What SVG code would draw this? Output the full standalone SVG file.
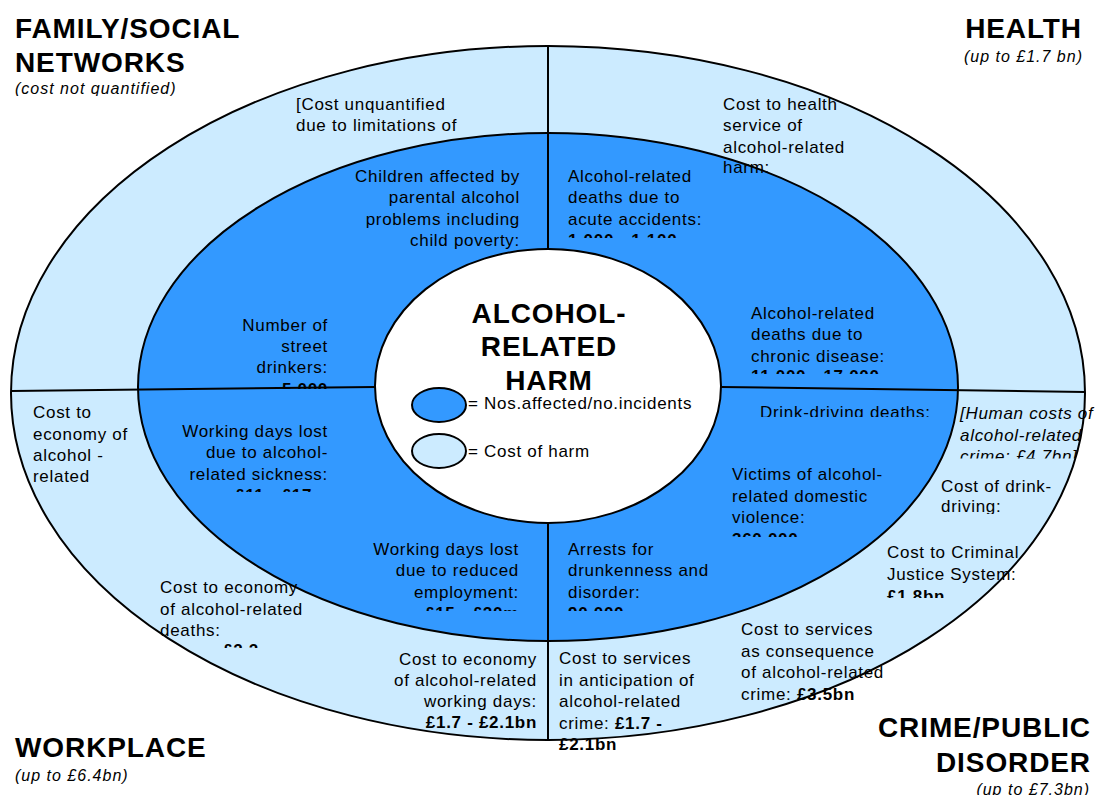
<svg xmlns="http://www.w3.org/2000/svg" width="1100" height="795" viewBox="0 0 1100 795">
<style>
.t{font-family:"Liberation Sans",Arial,sans-serif;font-size:17px;letter-spacing:0.7px;fill:#000}
.r{text-anchor:end}
.b{font-weight:bold}
.i{font-style:italic}
.h{font-family:"Liberation Sans",Arial,sans-serif;font-size:28px;font-weight:bold;letter-spacing:0.9px;fill:#000}
.s{font-family:"Liberation Sans",Arial,sans-serif;font-size:16px;font-style:italic;letter-spacing:1px;fill:#000}
.dk{fill:#3399FF;stroke:#000;stroke-width:2}
.lt{fill:#CCEBFF;stroke:#000;stroke-width:2}
.wh{fill:#FFFFFF;stroke:#000;stroke-width:2}
.ln{stroke:#000;stroke-width:2;fill:none}
</style>
<defs>
<clipPath id="c-fam"><rect x="0" y="0" width="300" height="96"/></clipPath>
<clipPath id="c-acute"><rect x="560" y="160" width="200" height="78"/></clipPath>
<clipPath id="c-chronic"><rect x="740" y="300" width="200" height="74"/></clipPath>
<clipPath id="c-street"><rect x="200" y="310" width="140" height="79"/></clipPath>
<clipPath id="c-sick"><rect x="160" y="415" width="180" height="77"/></clipPath>
<clipPath id="c-dd"><rect x="740" y="395" width="220" height="22"/></clipPath>
<clipPath id="c-dom"><rect x="720" y="460" width="200" height="77"/></clipPath>
<clipPath id="c-arr"><rect x="560" y="535" width="200" height="76"/></clipPath>
<clipPath id="c-red"><rect x="350" y="535" width="180" height="76"/></clipPath>
<clipPath id="c-deaths"><rect x="150" y="570" width="200" height="78"/></clipPath>
<clipPath id="c-hum"><rect x="950" y="395" width="150" height="63.5"/></clipPath>
<clipPath id="c-ddc"><rect x="930" y="470" width="150" height="44"/></clipPath>
<clipPath id="c-cjs"><rect x="880" y="535" width="160" height="63"/></clipPath>
</defs>

<g id="rings">
<ellipse class="lt" cx="548" cy="393" rx="537" ry="347"/>
<ellipse class="dk" cx="548" cy="387" rx="410" ry="254"/>
<ellipse class="wh" cx="548" cy="386" rx="173" ry="137"/>
</g>

<g id="connectors">
<line class="ln" x1="548" y1="46" x2="548" y2="249"/>
<line class="ln" x1="548" y1="523" x2="548" y2="740"/>
<line class="ln" x1="11" y1="391" x2="375" y2="387"/>
<line class="ln" x1="721" y1="387" x2="1085" y2="392"/>
</g>

<g id="title-family">
<text class="h" x="15" y="38">FAMILY/SOCIAL</text>
<text class="h" x="15" y="72">NETWORKS</text>
<text class="s" x="15" y="94" clip-path="url(#c-fam)">(cost not quantified)</text>
</g>
<g id="title-health">
<text class="h r" x="1082" y="38">HEALTH</text>
<text class="s r" x="1083" y="62">(up to £1.7 bn)</text>
</g>
<g id="title-workplace">
<text class="h" x="15" y="757">WORKPLACE</text>
<text class="s" x="15" y="781">(up to £6.4bn)</text>
</g>
<g id="title-crime">
<text class="h r" x="1091" y="737">CRIME/PUBLIC</text>
<text class="h r" x="1091" y="772">DISORDER</text>
<text class="s r" x="1090" y="795">(up to £7.3bn)</text>
</g>

<g id="centre">
<text class="h" text-anchor="middle" x="549" y="323">ALCOHOL-</text>
<text class="h" text-anchor="middle" x="549" y="356">RELATED</text>
<text class="h" text-anchor="middle" x="549" y="390">HARM</text>
<ellipse class="dk" cx="439" cy="405" rx="27" ry="17"/>
<text class="t" x="468" y="409">= Nos.affected/no.incidents</text>
<ellipse class="lt" cx="439" cy="451" rx="27" ry="17"/>
<text class="t" x="468" y="457">= Cost of harm</text>
</g>

<g id="n-family-cost">
<text class="t" x="296" y="110">[Cost unquantified</text>
<text class="t" x="296" y="131">due to limitations of</text>
</g>
<g id="n-children">
<text class="t r" x="520" y="182">Children affected by</text>
<text class="t r" x="520" y="203">parental alcohol</text>
<text class="t r" x="520" y="225">problems including</text>
<text class="t r" x="520" y="246">child poverty:</text>
</g>
<g id="n-health-cost">
<text class="t" x="723" y="110">Cost to health</text>
<text class="t" x="723" y="131">service of</text>
<text class="t" x="723" y="153">alcohol-related</text>
<text class="t" x="723" y="173">harm:</text>
</g>
<g id="n-acute">
<text class="t" x="568" y="182">Alcohol-related</text>
<text class="t" x="568" y="203">deaths due to</text>
<text class="t" x="568" y="225">acute accidents:</text>
<text class="t b" x="568" y="246" clip-path="url(#c-acute)">1,000 - 1,100</text>
</g>
<g id="n-chronic">
<text class="t" x="751" y="319">Alcohol-related</text>
<text class="t" x="751" y="340">deaths due to</text>
<text class="t" x="751" y="362">chronic disease:</text>
<text class="t b" x="751" y="382" clip-path="url(#c-chronic)">11,000 - 17,000</text>
</g>
<g id="n-street">
<text class="t r" x="328" y="331">Number of</text>
<text class="t r" x="328" y="352">street</text>
<text class="t r" x="328" y="373">drinkers:</text>
<text class="t r b" x="328" y="395" clip-path="url(#c-street)">5,000</text>
</g>
<g id="n-sickness">
<text class="t r" x="328" y="437">Working days lost</text>
<text class="t r" x="328" y="458">due to alcohol-</text>
<text class="t r" x="328" y="480">related sickness:</text>
<text class="t r b" x="328" y="501" clip-path="url(#c-sick)">£11 - £17m</text>
</g>
<g id="n-drink-deaths">
<text class="t" x="760" y="418" clip-path="url(#c-dd)">Drink-driving deaths:</text>
</g>
<g id="n-domestic">
<text class="t" x="732" y="480">Victims of alcohol-</text>
<text class="t" x="732" y="502">related domestic</text>
<text class="t" x="732" y="523">violence:</text>
<text class="t b" x="732" y="545" clip-path="url(#c-dom)">360,000</text>
</g>
<g id="n-arrests">
<text class="t" x="568" y="555">Arrests for</text>
<text class="t" x="568" y="576">drunkenness and</text>
<text class="t" x="568" y="598">disorder:</text>
<text class="t b" x="568" y="619" clip-path="url(#c-arr)">90,000</text>
</g>
<g id="n-reduced">
<text class="t r" x="519" y="555">Working days lost</text>
<text class="t r" x="519" y="576">due to reduced</text>
<text class="t r" x="519" y="598">employment:</text>
<text class="t r b" x="519" y="619" clip-path="url(#c-red)">£15 - £20m</text>
</g>
<g id="n-workplace-cost">
<text class="t" x="33" y="418">Cost to</text>
<text class="t" x="33" y="440">economy of</text>
<text class="t" x="33" y="461">alcohol -</text>
<text class="t" x="33" y="482">related</text>
</g>
<g id="n-deaths-cost">
<text class="t" x="160" y="593">Cost to economy</text>
<text class="t" x="160" y="615">of alcohol-related</text>
<text class="t" x="160" y="636">deaths:</text>
<text class="t b" x="223" y="656" clip-path="url(#c-deaths)">£2.2</text>
</g>
<g id="n-workdays-cost">
<text class="t r" x="537" y="665">Cost to economy</text>
<text class="t r" x="537" y="686">of alcohol-related</text>
<text class="t r" x="537" y="707">working days:</text>
<text class="t r b" x="537" y="728">£1.7 - £2.1bn</text>
</g>
<g id="n-anticipation">
<text class="t" x="559" y="664">Cost to services</text>
<text class="t" x="559" y="686">in anticipation of</text>
<text class="t" x="559" y="707">alcohol-related</text>
<text class="t" x="559" y="729">crime: <tspan class="b">£1.7 -</tspan></text>
<text class="t b" x="559" y="750">£2.1bn</text>
</g>
<g id="n-consequence">
<text class="t" x="741" y="635">Cost to services</text>
<text class="t" x="741" y="657">as consequence</text>
<text class="t" x="741" y="678">of alcohol-related</text>
<text class="t" x="741" y="700">crime: <tspan class="b">£3.5bn</tspan></text>
</g>
<g id="n-human">
<text class="t i" x="960" y="419">[Human costs of</text>
<text class="t i" x="960" y="441">alcohol-related</text>
<text class="t i" x="960" y="462" clip-path="url(#c-hum)">crime: £4.7bn]</text>
</g>
<g id="n-drink-cost">
<text class="t" x="941" y="492">Cost of drink-</text>
<text class="t" x="941" y="512" clip-path="url(#c-ddc)">driving:</text>
</g>
<g id="n-cjs">
<text class="t" x="887" y="558">Cost to Criminal</text>
<text class="t" x="887" y="580">Justice System:</text>
<text class="t b" x="887" y="602" clip-path="url(#c-cjs)">£1.8bn</text>
</g>
</svg>
